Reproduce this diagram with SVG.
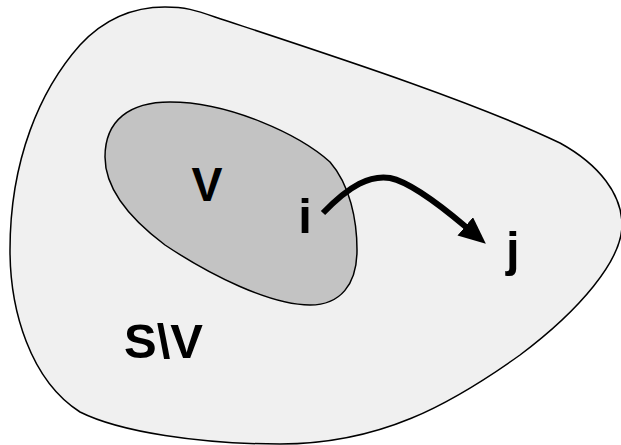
<svg xmlns="http://www.w3.org/2000/svg" width="621" height="445" viewBox="0 0 621 445">
<style>
.lbl{font-family:"Liberation Sans",Arial,sans-serif;font-weight:bold;font-size:49px;fill:#000}
.region{stroke:#000;stroke-width:1.5}
</style>
<defs>
<marker id="ah" viewBox="0 0 27 24" markerWidth="27" markerHeight="24" refX="1" refY="12" markerUnits="userSpaceOnUse" orient="auto">
<path d="M0,0 L27,12 L0,24 Z" fill="#000"/>
</marker>
</defs>
<g id="outer">
<path class="region" fill="#f0f0f0" d="M165,7 C185,7 195,10 215,17 C330,55 470,100 560,143 C600,165 622,195 622,225 C622,260 580,310 520,355 C450,405 380,444 280,444 C200,444 120,432 80,412 C30,380 10,310 10,250 C10,160 40,90 80,45 C105,18 135,7 165,7 Z"/>
<text class="lbl" x="124" y="358" textLength="79" lengthAdjust="spacingAndGlyphs">S\V</text>
</g>
<g id="inner">
<path class="region" fill="#c3c3c3" d="M105,157 C105,120 130,102 170,102 C230,102 300,135 330,162 C350,185 357,220 357,250 C357,285 340,305 310,305 C270,305 210,275 165,245 C125,215 105,185 105,157 Z"/>
<text class="lbl" x="207" y="201" text-anchor="middle" textLength="31" lengthAdjust="spacingAndGlyphs">V</text>
</g>
<g id="node-i">
<text class="lbl" x="305" y="233" text-anchor="middle">i</text>
</g>
<g id="node-j">
<text class="lbl" x="506" y="266">j</text>
</g>
<g id="connectors">
<path d="M323,213 C350,185 370,175 390,178 C410,182 440,205 466,227" fill="none" stroke="#000" stroke-width="6" marker-end="url(#ah)"/>
</g>
</svg>
